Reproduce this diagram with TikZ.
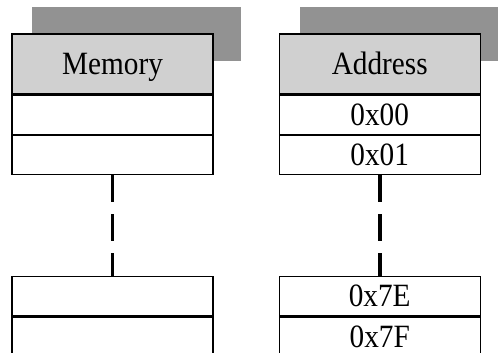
\documentclass[tikz,border=0pt]{standalone}
\usepackage{fontspec}
\setmainfont{Liberation Serif}[FakeStretch=0.9]
\usepackage{xcolor}
\definecolor{scangray}{HTML}{929292}
\definecolor{headgray}{HTML}{D0D0D0}
\usetikzlibrary{positioning,calc,backgrounds}
\tikzset{
  cell/.style={draw, line width=0.7pt, minimum width=4.02cm, minimum height=0.78cm,
               inner sep=0pt, text height=12.2pt, text depth=0pt,
               font=\fontsize{18.5}{20}\selectfont},
  headcell/.style={cell, fill=headgray, minimum height=1.2cm},
  gapline/.style={line width=2.2pt, dash pattern=on 0.54cm off 0.24cm},
  shadowbox/.style={fill=scangray},
}

\begin{document}
\begin{tikzpicture}[node distance=0pt and 1.3cm]
  \useasboundingbox (0,0) rectangle (9.96,-7.04);
  % memory column
  \node[headcell] (memhead) at (2.25,-1.28) {Memory};
  \node[cell, below=of memhead] (mema) {};
  \node[cell, below=of mema] (memb) {};
  \node[cell, below=2.02cm of memb] (memc) {};
  \node[cell, below=of memc] (memd) {};
  % address column
  \node[headcell, right=of memhead] (adrhead) {Address};
  \node[cell, below=of adrhead] (adra) {0x00};
  \node[cell, below=of adra] (adrb) {0x01};
  \node[cell, below=2.02cm of adrb] (adrc) {0x7E};
  \node[cell, below=of adrc] (adrd) {0x7F};
  % shadows behind the headers
  \begin{scope}[on background layer]
    \fill[shadowbox] ($(memhead.north west)+(0.42,0.52)$) rectangle ($(memhead.south east)+(0.54,0.68)$);
    \fill[shadowbox] ($(adrhead.north west)+(0.42,0.52)$) rectangle ($(adrhead.south east)+(0.54,0.68)$);
  \end{scope}
  \draw[gapline] (memb.south) -- (memc.north);
  \draw[gapline] (adrb.south) -- (adrc.north);
\end{tikzpicture}
\end{document}
